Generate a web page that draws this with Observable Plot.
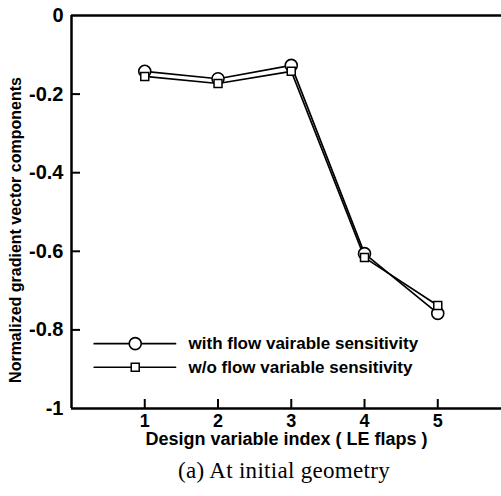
<!DOCTYPE html>
<html>
<head>
<meta charset="utf-8">
<script src="https://cdn.jsdelivr.net/npm/d3@7"></script>
<script src="https://cdn.jsdelivr.net/npm/@observablehq/plot@0.6"></script>
<style>
  html, body { margin: 0; padding: 0; background: #fff; }
  #chart { width: 501px; height: 452px; }
  .caption { font-family: "Liberation Serif", "Times New Roman", serif; font-size: 23px; letter-spacing: 0.3px; text-align: center; width: 501px; padding-left: 67px; box-sizing: border-box; margin-top: 6px; color: #000; line-height: 26px; }
</style>
</head>
<body>
<div id="chart"></div>
<div class="caption">(a) At initial geometry</div>
<script>
// Data
const designIndex = [1, 2, 3, 4, 5];
const withFlow = [-0.142, -0.161, -0.127, -0.606, -0.758];
const withoutFlow = [-0.155, -0.173, -0.142, -0.616, -0.738];
const xTicks = [1, 2, 3, 4, 5];
const yTicks = [0, -0.2, -0.4, -0.6, -0.8, -1];
const yTickLabels = ["0", "-0.2", "-0.4", "-0.6", "-0.8", "-1"];
const seriesNames = ["with flow vairable sensitivity", "w/o flow variable sensitivity"];
// legend sample positions (data units)
const legendX = [0.31, 1.42];
const legendMarkX = 0.87;
const legendY = [-0.835, -0.895];

const rows1 = designIndex.map((x, i) => ({x, y: withFlow[i]}));
const rows2 = designIndex.map((x, i) => ({x, y: withoutFlow[i]}));

const font = "'Liberation Sans', Arial, sans-serif";
const xMax = 5.87;
const tickLenX = 9 / (430 / xMax);   // 9px in x units
const tickLenY = 9 / 393;            // 9px in y units

const plot = Plot.plot({
  width: 501,
  height: 452,
  marginLeft: 71,
  marginRight: 0,
  marginTop: 15,
  marginBottom: 44,
  style: {fontFamily: font, fontSize: "17px", fontWeight: "bold", background: "white", color: "black", overflow: "visible"},
  x: {type: "linear", domain: [0, xMax], axis: null},
  y: {type: "linear", domain: [-1, 0], axis: null},
  marks: [
    // frame lines
    Plot.ruleX([0], {stroke: "black", strokeWidth: 2.5}),
    Plot.ruleY([-1], {stroke: "black", strokeWidth: 2.5}),
    Plot.ruleY([0], {stroke: "black", strokeWidth: 2.5}),
    // inward ticks
    Plot.ruleY(yTicks.slice(1, -1), {y: d => d, x1: 0, x2: tickLenX, stroke: "black", strokeWidth: 2}),
    Plot.ruleX(xTicks, {x: d => d, y1: -1, y2: -1 + tickLenY, stroke: "black", strokeWidth: 2}),
    // tick labels
    Plot.text(yTicks, {x: 0, y: d => d, text: (d, i) => yTickLabels[i], textAnchor: "end", dx: -8, fontSize: 20, fontWeight: "bold"}),
    Plot.text(xTicks, {x: d => d, y: -1, text: d => String(d), dy: 13, fontSize: 18, fontWeight: "bold"}),
    Plot.text(["Normalized gradient vector components"], {frameAnchor: "left", textAnchor: "middle", dx: -56, dy: 18, rotate: -90, fontSize: 16, fontWeight: "bold"}),
    Plot.text(["Design variable index ( LE flaps )"], {frameAnchor: "bottom", textAnchor: "middle", dy: 36, dx: 0, fontSize: 18, fontWeight: "bold"}),
    // series
    Plot.line(rows1, {x: "x", y: "y", stroke: "black", strokeWidth: 1.7}),
    Plot.line(rows2, {x: "x", y: "y", stroke: "black", strokeWidth: 1.7}),
    Plot.dot(rows1, {x: "x", y: "y", r: 6, stroke: "black", strokeWidth: 1.6, fill: "white"}),
    Plot.dot(rows2, {x: "x", y: "y", r: 4.5, symbol: "square", stroke: "black", strokeWidth: 1.5, fill: "white"}),
    // legend
    Plot.line(legendX.map(x => ({x, y: legendY[0]})), {x: "x", y: "y", stroke: "black", strokeWidth: 1.7}),
    Plot.line(legendX.map(x => ({x, y: legendY[1]})), {x: "x", y: "y", stroke: "black", strokeWidth: 1.7}),
    Plot.dot([{x: legendMarkX, y: legendY[0]}], {x: "x", y: "y", r: 6, stroke: "black", strokeWidth: 1.6, fill: "white"}),
    Plot.dot([{x: legendMarkX, y: legendY[1]}], {x: "x", y: "y", r: 4.5, symbol: "square", stroke: "black", strokeWidth: 1.5, fill: "white"}),
    Plot.text(seriesNames.map((s, i) => ({s, y: legendY[i]})), {x: legendX[1], y: "y", text: "s", textAnchor: "start", dx: 13, fontSize: 17, fontWeight: "bold"})
  ]
});
document.getElementById("chart").appendChild(plot);
</script>
</body>
</html>
